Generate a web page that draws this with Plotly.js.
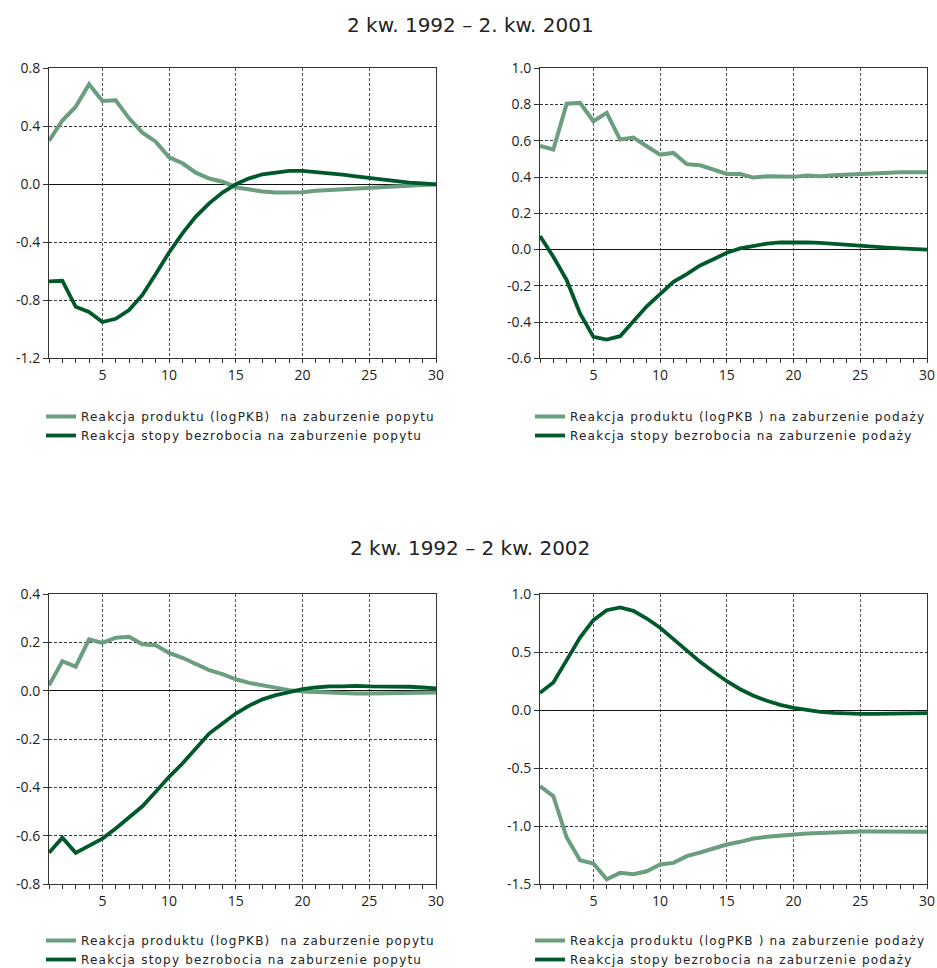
<!DOCTYPE html>
<html>
<head>
<meta charset="utf-8">
<script src="https://cdn.plot.ly/plotly-3.0.1.min.js"></script>
<style>
html,body{margin:0;padding:0;background:#fff;overflow:hidden;}
#chart{width:937px;height:968px;}
</style>
</head>
<body>
<div id="chart"></div>
<script>
const periods = Array.from({length: 30}, (_, i) => i + 1);

const titleTop = "2 kw. 1992 – 2. kw. 2001";
const titleBottom = "2 kw. 1992 – 2 kw. 2002";

const labelProdDemand = "Reakcja produktu (logPKB)\u00a0\u00a0na zaburzenie popytu";
const labelUnempDemand = "Reakcja stopy bezrobocia na zaburzenie popytu";
const labelProdSupply = "Reakcja produktu (logPKB ) na zaburzenie podaży";
const labelUnempSupply = "Reakcja stopy bezrobocia na zaburzenie podaży";

// Top-left: 1992Q2-2001Q2, demand shock
const tlProduct = [0.30,0.44,0.535,0.69,0.575,0.58,0.455,0.356,0.294,0.186,0.145,0.08,0.04,0.018,-0.02,-0.035,-0.05,-0.057,-0.055,-0.055,-0.045,-0.04,-0.035,-0.028,-0.02,-0.016,-0.012,-0.007,-0.004,-0.002];
const tlUnemp = [-0.67,-0.665,-0.845,-0.88,-0.95,-0.927,-0.867,-0.763,-0.618,-0.47,-0.338,-0.223,-0.131,-0.057,0.0,0.041,0.069,0.083,0.092,0.092,0.085,0.078,0.067,0.055,0.044,0.032,0.021,0.011,0.007,0.0];

// Top-right: 1992Q2-2001Q2, supply shock
const trProduct = [0.572,0.552,0.805,0.809,0.708,0.754,0.607,0.618,0.570,0.524,0.533,0.471,0.465,0.441,0.417,0.417,0.397,0.405,0.401,0.401,0.408,0.405,0.41,0.414,0.417,0.419,0.423,0.427,0.427,0.427];
const trUnemp = [0.075,-0.04,-0.169,-0.353,-0.482,-0.497,-0.478,-0.394,-0.313,-0.246,-0.178,-0.136,-0.088,-0.053,-0.018,0.006,0.02,0.033,0.039,0.042,0.04,0.037,0.031,0.026,0.022,0.017,0.011,0.007,0.004,0.0];

// Bottom-left: 1992Q2-2002Q2, demand shock
const blProduct = [0.023,0.123,0.1,0.213,0.199,0.22,0.224,0.193,0.189,0.157,0.137,0.113,0.086,0.069,0.048,0.033,0.022,0.01,0.003,-0.003,-0.006,-0.008,-0.01,-0.011,-0.011,-0.011,-0.01,-0.01,-0.008,-0.007];
const blUnemp = [-0.671,-0.608,-0.671,-0.64,-0.612,-0.570,-0.525,-0.478,-0.418,-0.356,-0.301,-0.239,-0.177,-0.135,-0.094,-0.061,-0.035,-0.018,-0.004,0.007,0.014,0.019,0.019,0.021,0.019,0.019,0.018,0.017,0.014,0.01];

// Bottom-right: 1992Q2-2002Q2, supply shock
const brProduct = [-0.656,-0.742,-1.099,-1.295,-1.323,-1.459,-1.404,-1.415,-1.39,-1.332,-1.318,-1.26,-1.228,-1.194,-1.159,-1.136,-1.108,-1.093,-1.082,-1.07,-1.064,-1.059,-1.053,-1.05,-1.047,-1.047,-1.047,-1.05,-1.05,-1.05];
const brUnemp = [0.15,0.239,0.432,0.627,0.777,0.863,0.886,0.857,0.791,0.711,0.613,0.512,0.417,0.331,0.25,0.181,0.124,0.081,0.046,0.02,0.0,-0.014,-0.023,-0.029,-0.032,-0.032,-0.032,-0.029,-0.029,-0.026];

const xTicks = [5,10,15,20,25,30];
const tlTicks = [-1.2,-0.8,-0.4,0,0.4,0.8];
const tlTickText = ["-1.2","-0.8","-0.4","0.0","0.4","0.8"];
const trTicks = [-0.6,-0.4,-0.2,0,0.2,0.4,0.6,0.8,1.0];
const trTickText = ["-0.6","-0.4","-0.2","0.0","0.2","0.4","0.6","0.8","1.0"];
const blTicks = [-0.8,-0.6,-0.4,-0.2,0,0.2,0.4];
const blTickText = ["-0.8","-0.6","-0.4","-0.2","0.0","0.2","0.4"];
const brTicks = [-1.5,-1.0,-0.5,0,0.5,1.0];
const brTickText = ["-1.5","-1.0","-0.5","0.0","0.5","1.0"];

const LIGHT = "#6a9e7e";
const DARK = "#00592b";
const FONT = "Open Sans, DejaVu Sans, sans-serif";
const LFONT = "DejaVu Sans, sans-serif";

function tr(y, name, color, width, xa, ya, leg) {
  return {x: periods, y: y, name: name, type: "scatter", mode: "lines",
    line: {color: color, width: width}, xaxis: xa, yaxis: ya, legend: leg, hoverinfo: "skip"};
}

const data = [
  tr(tlProduct, labelProdDemand, LIGHT, 4, "x", "y", "legend"),
  tr(tlUnemp, labelUnempDemand, DARK, 3.8, "x", "y", "legend"),
  tr(trProduct, labelProdSupply, LIGHT, 4, "x2", "y2", "legend2"),
  tr(trUnemp, labelUnempSupply, DARK, 3.8, "x2", "y2", "legend2"),
  tr(blProduct, labelProdDemand, LIGHT, 4, "x3", "y3", "legend3"),
  tr(blUnemp, labelUnempDemand, DARK, 3.8, "x3", "y3", "legend3"),
  tr(brProduct, labelProdSupply, LIGHT, 4, "x4", "y4", "legend4"),
  tr(brUnemp, labelUnempSupply, DARK, 3.8, "x4", "y4", "legend4")
];

const W = 937, H = 968;
const dx = (a, b) => [a / W, b / W];
const dy = (top, bot) => [1 - bot / H, 1 - top / H];

function xax(domain, anchor) {
  return {domain: domain, anchor: anchor, range: [1, 30], tickvals: xTicks,
    ticks: "outside", ticklen: 4, tickcolor: "#333", tickwidth: 1,
    showline: true, linecolor: "#333", linewidth: 1, mirror: true,
    showgrid: true, gridcolor: "#555", griddash: "3px,2px", gridwidth: 1,
    zeroline: false, tickfont: {family: FONT, size: 14, color: "#222"},
    minor: {dtick: 1, tick0: 1, ticks: "outside", ticklen: 4, tickcolor: "#333", showgrid: false},
    automargin: false, fixedrange: true};
}
function yax(domain, anchor, range, vals, text) {
  return {domain: domain, anchor: anchor, range: range, tickmode: "array",
    tickvals: vals, ticktext: text, ticks: "outside", ticklen: 5, tickcolor: "#333",
    showline: true, linecolor: "#333", linewidth: 1, mirror: true,
    showgrid: true, gridcolor: "#333", griddash: "3px,2px", gridwidth: 1,
    zeroline: true, zerolinecolor: "#111", zerolinewidth: 1.2,
    tickfont: {family: FONT, size: 14, color: "#222"}, automargin: false, fixedrange: true};
}
function leg(xpx, ypx) {
  return {x: xpx / W, y: 1 - ypx / H, xanchor: "left", yanchor: "top",
    bgcolor: "rgba(0,0,0,0)", borderwidth: 0, itemwidth: 30, tracegroupgap: 0,
    font: {family: LFONT, size: 12, color: "#222"}, itemclick: false, itemdoubleclick: false};
}

const layout = {
  width: W, height: H, margin: {l: 0, r: 0, t: 0, b: 0, autoexpand: false},
  paper_bgcolor: "#fff", plot_bgcolor: "#fff", showlegend: true,
  font: {family: FONT},
  xaxis: xax(dx(49, 436), "y"),
  yaxis: yax(dy(68.3, 358.3), "x", [-1.2, 0.8], tlTicks, tlTickText),
  xaxis2: xax(dx(540, 927), "y2"),
  yaxis2: yax(dy(68.3, 358.3), "x2", [-0.6, 1.0], trTicks, trTickText),
  xaxis3: xax(dx(49, 436), "y3"),
  yaxis3: yax(dy(594.3, 884), "x3", [-0.8, 0.4], blTicks, blTickText),
  xaxis4: xax(dx(540, 927), "y4"),
  yaxis4: yax(dy(594.3, 884), "x4", [-1.5, 1.0], brTicks, brTickText),
  legend: leg(41, 402),
  legend2: leg(530, 402),
  legend3: leg(41, 926),
  legend4: leg(530, 926),
  annotations: [
    {text: titleTop, xref: "paper", yref: "paper", x: 470 / W, y: 1 - 25 / H,
     xanchor: "center", yanchor: "middle", showarrow: false,
     font: {family: LFONT, size: 20, color: "#222"}},
    {text: titleBottom, xref: "paper", yref: "paper", x: 470 / W, y: 1 - 548 / H,
     xanchor: "center", yanchor: "middle", showarrow: false,
     font: {family: LFONT, size: 20, color: "#222"}}
  ]
};

function spaceLegends() {
  document.querySelectorAll("#chart .infolayer g[class^='legend'] text").forEach(function (t) {
    t.style.letterSpacing = "1.2px";
  });
  document.querySelectorAll("#chart .infolayer g[class^='legend'], #chart .infolayer g[class^='legend'] *").forEach(function (el) {
    if (el.hasAttribute("clip-path")) el.removeAttribute("clip-path");
  });
}
Plotly.newPlot("chart", data, layout, {displayModeBar: false, staticPlot: true}).then(function () {
  spaceLegends();
  setTimeout(spaceLegends, 50);
  setTimeout(spaceLegends, 300);
});
</script>
</body>
</html>
